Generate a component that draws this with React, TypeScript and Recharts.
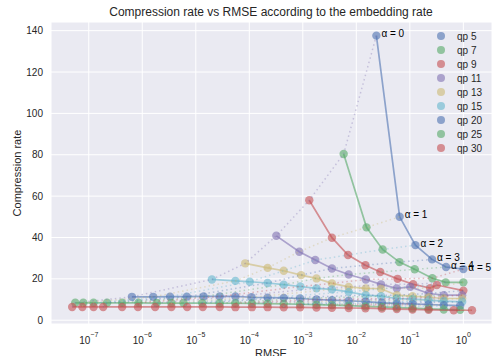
import { ScatterChart, Scatter, XAxis, YAxis, CartesianGrid } from 'recharts';

const palette = ['#4C72B0', '#55A868', '#C44E52', '#8172B2', '#CCB974', '#64B5CD'];
const textColor = '#262626';
const font = '"Liberation Sans", Arial, sans-serif';

const qpNames = ['qp 5', 'qp 7', 'qp 9', 'qp 11', 'qp 13', 'qp 15', 'qp 20', 'qp 25', 'qp 30'];
const alphaLabels = ['α = 0', 'α = 1', 'α = 2', 'α = 3', 'α = 4', 'α = 5'];

const rmseQp5 = [0.0237, 0.0645, 0.127, 0.26, 0.475, 1.0];
const rateQp5 = [137.6, 50.0, 36.3, 29.4, 25.7, 24.7];

const rmseQp7 = [0.0058, 0.0155, 0.031, 0.064, 0.123, 0.263, 0.467, 1.0];
const rateQp7 = [80.4, 44.9, 34.2, 28.1, 24.6, 20.3, 18.3, 18.3];

const rmseQp9 = [0.00132, 0.0035, 0.007, 0.0148, 0.028, 0.059, 0.115, 0.24, 0.32, 1.0];
const rateQp9 = [58.0, 39.9, 31.5, 26.6, 23.3, 20.0, 17.4, 15.5, 17.0, 14.3];

const rmseQp11 = [3.2e-4, 8.6e-4, 1.71e-3, 3.5e-3, 7.2e-3, 0.015, 0.029, 0.057, 0.102, 0.225, 0.43, 0.95];
const rateQp11 = [40.8, 33.1, 29.1, 25.0, 22.1, 19.7, 17.3, 15.4, 16.1, 12.9, 12.1, 12.1];

const rmseQp13 = [8.4e-5, 2.2e-4, 4.4e-4, 9.3e-4, 1.8e-3, 3.5e-3, 7.2e-3, 0.015, 0.029, 0.057, 0.112, 0.224, 0.43, 0.95];
const rateQp13 = [27.5, 25.3, 23.9, 21.8, 20.2, 17.8, 16.1, 15.4, 15.2, 12.1, 11.6, 11.1, 10.5, 10.5];

const rmseQp15 = [2.0e-5, 5.5e-5, 1.02e-4, 2.2e-4, 4.4e-4, 9.0e-4, 1.8e-3, 3.5e-3, 7.2e-3, 0.015, 0.029, 0.057, 0.112, 0.224, 0.43, 0.95];
const rateQp15 = [19.7, 19.0, 18.6, 18.0, 17.2, 16.3, 15.4, 14.9, 13.7, 12.1, 11.6, 10.5, 10.2, 9.7, 9.2, 8.9];

const rmseQp20 = [6.4e-7, 1.6e-6, 3.3e-6, 6.8e-6, 1.4e-5, 2.8e-5, 5.5e-5, 1.1e-4, 2.2e-4, 4.4e-4, 8.9e-4, 1.8e-3, 3.5e-3, 7.2e-3, 0.015, 0.03, 0.057, 0.112, 0.224, 0.43, 0.87];
const rateQp20 = [11.3, 11.3, 11.4, 11.4, 11.5, 11.5, 11.5, 11.1, 10.9, 10.8, 10.5, 10.0, 9.7, 9.4, 9.0, 8.4, 8.1, 7.9, 7.6, 7.3, 7.0];

const rmseQp25 = [5.6e-8, 7.9e-8, 1.23e-7, 2.2e-7, 4.2e-7, 8.5e-7, 1.86e-6, 3.5e-6, 5.9e-6, 1.32e-5, 2.8e-5, 5.5e-5, 1.12e-4, 2.2e-4, 4.4e-4, 8.9e-4, 1.8e-3, 3.5e-3, 7.2e-3, 0.0148, 0.03, 0.057, 0.112, 0.224, 0.43, 0.87];
const rateQp25 = [8.4, 8.4, 8.4, 8.4, 8.4, 8.4, 8.3, 8.3, 8.3, 8.3, 8.2, 8.2, 8.1, 8.0, 7.9, 7.7, 7.5, 7.3, 7.0, 6.7, 6.4, 6.1, 5.8, 5.5, 5.2, 5.0];

const rmseQp30 = [4.9e-8, 7.6e-8, 1.23e-7, 1.86e-7, 4.2e-7, 8.3e-7, 1.74e-6, 3.5e-6, 6.9e-6, 1.35e-5, 2.8e-5, 5.5e-5, 1.12e-4, 2.2e-4, 4.4e-4, 8.9e-4, 1.8e-3, 3.5e-3, 7.2e-3, 0.0148, 0.03, 0.057, 0.112, 0.224, 0.66, 1.45];
const rateQp30 = [6.4, 6.4, 6.4, 6.4, 6.4, 6.4, 6.4, 6.4, 6.4, 6.4, 6.4, 6.3, 6.3, 6.3, 6.2, 6.2, 6.1, 6.0, 5.9, 5.8, 5.6, 5.4, 5.2, 5.0, 4.8, 4.8];

const rmseByQp = [rmseQp5, rmseQp7, rmseQp9, rmseQp11, rmseQp13, rmseQp15, rmseQp20, rmseQp25, rmseQp30];
const rateByQp = [rateQp5, rateQp7, rateQp9, rateQp11, rateQp13, rateQp15, rateQp20, rateQp25, rateQp30];

const xTicks = [1e-7, 1e-6, 1e-5, 1e-4, 1e-3, 1e-2, 1e-1, 1];
const yTicks = [0, 20, 40, 60, 80, 100, 120, 140];

const series = qpNames.map((name, s) => ({
  name,
  color: palette[s % palette.length],
  data: rmseByQp[s].map((x, i) => ({ x, y: rateByQp[s][i], label: s === 0 ? alphaLabels[i] : undefined })),
}));

// dotted lines join the i-th point of every qp curve
const maxLen = Math.max(...rmseByQp.map((r) => r.length));
const alphaLines = Array.from({ length: maxLen }, (_, i) => ({
  color: palette[(qpNames.length + i) % palette.length],
  data: rmseByQp
    .map((r, s) => (r.length > i ? { x: r[i], y: rateByQp[s][i] } : null))
    .filter((p) => p !== null),
}));

const Dot = (color: string) => (p: any) => (
  <g>
    <circle cx={p.cx} cy={p.cy} r={4.2} fill={color} fillOpacity={0.6} />
    {p.payload && p.payload.label ? (
      <text x={p.cx + 5} y={p.cy + 1.5} fontSize={10} fill="#000" fontFamily={font}>
        {p.payload.label}
      </text>
    ) : null}
  </g>
);

const Empty = () => <g />;

const PowTick = ({ x, y, payload }: any) => {
  const e = Math.round(Math.log10(payload.value));
  return (
    <text x={x} y={y + 20} textAnchor="middle" fill={textColor} fontSize={10} fontFamily={font}>
      <tspan>10</tspan>
      <tspan dy={-7} fontSize={7}>{e < 0 ? '\u2212' + -e : String(e)}</tspan>
    </text>
  );
};

const NumTick = ({ x, y, payload }: any) => (
  <text x={x} y={y + 3.5} textAnchor="end" fill={textColor} fontSize={10} fontFamily={font}>
    {payload.value}
  </text>
);

export default function App() {
  return (
    <div style={{ position: 'relative', width: 492, height: 356, background: '#fff' }}>
      <style>{'body{margin:0}'}</style>
      <ScatterChart width={492} height={356} margin={{ top: 22, right: 0, bottom: 0, left: 0 }}>
        <CartesianGrid fill="#EAEAF2" stroke="#fff" strokeWidth={1} />
        <XAxis
          dataKey="x"
          type="number"
          scale="log"
          domain={[1.97e-8, 3.43]}
          allowDataOverflow
          ticks={xTicks}
          interval={0}
          height={32}
          axisLine={false}
          tickLine={false}
          tickSize={0}
          tickMargin={0}
          tick={<PowTick />}
        />
        <YAxis
          dataKey="y"
          type="number"
          domain={[-1.84, 144.2]}
          allowDataOverflow
          ticks={yTicks}
          interval={0}
          width={51}
          axisLine={false}
          tickLine={false}
          tickSize={0}
          tickMargin={8}
          tick={<NumTick />}
        />
        {series.map((s) => (
          <Scatter
            key={s.name}
            name={s.name}
            data={s.data}
            fill={s.color}
            line={{ stroke: s.color, strokeWidth: 1.7, strokeOpacity: 0.6 }}
            shape={Dot(s.color)}
            isAnimationActive={false}
          />
        ))}
        {alphaLines.map((l, i) => (
          <Scatter
            key={'a' + i}
            data={l.data}
            fill={l.color}
            legendType="none"
            line={{ stroke: l.color, strokeWidth: 1.5, strokeOpacity: 0.35, strokeDasharray: '1.5 3' }}
            shape={Empty}
            isAnimationActive={false}
          />
        ))}
      </ScatterChart>
      <svg width={492} height={356} style={{ position: 'absolute', left: 0, top: 0, pointerEvents: 'none' }}>
        <text x={271} y={16} textAnchor="middle" fontSize={12} fill={textColor} fontFamily={font}>
          Compression rate vs RMSE according to the embedding rate
        </text>
        <text x={271} y={357} textAnchor="middle" fontSize={11} fill={textColor} fontFamily={font}>
          RMSE
        </text>
        <text
          transform="translate(20.5,173) rotate(-90)"
          textAnchor="middle"
          fontSize={11}
          fill={textColor}
          fontFamily={font}
        >
          Compression rate
        </text>
        {series.map((s, i) => (
          <g key={s.name}>
            <circle cx={441} cy={36 + i * 14} r={4} fill={s.color} fillOpacity={0.6} />
            <text x={457} y={36 + i * 14 + 3.5} fontSize={10} fill={textColor} fontFamily={font}>
              {s.name}
            </text>
          </g>
        ))}
      </svg>
    </div>
  );
}
